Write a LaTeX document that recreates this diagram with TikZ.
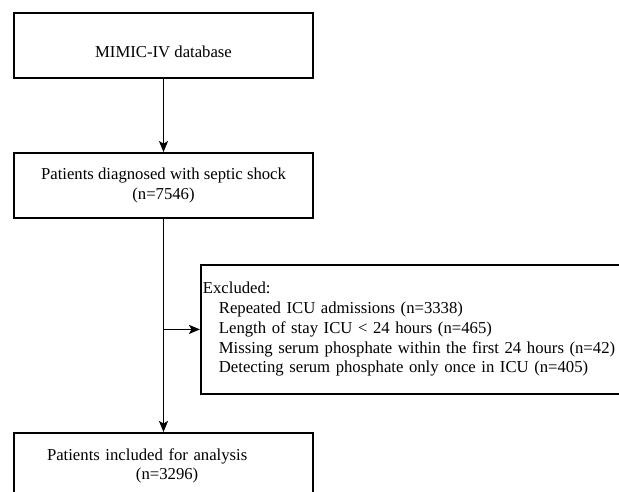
\documentclass[tikz,border=0pt]{standalone}
\usepackage{fontspec}
\setmainfont{Liberation Serif}
\usepackage{tikz}
\usetikzlibrary{arrows.meta}

\begin{document}
\begin{tikzpicture}[x=1pt, y=-1pt,
  box/.style={draw, line width=1.8pt, minimum width=299pt, minimum height=65pt,
    inner sep=0pt, align=center, font=\fontsize{16.7}{19.7}\selectfont},
  flow/.style={line width=1.8pt, -{Stealth[length=11pt,width=9pt,inset=2.5pt]}}]
  % Page frame (boxes run off the edges)
  \clip (0,0) rectangle (619,491);
  \fill[white] (0,0) rectangle (619,491);

  % Source database
  \node[box] (mimic) at (163.5,45.5) {\raisebox{-6pt}[\height][\depth]{MIMIC-IV database}};

  % Septic shock cohort
  \node[box] (septic) at (163.5,185.5) {Patients diagnosed with septic shock\\(n=7546)};

  % Exclusion criteria
  \node[box, anchor=north west, minimum height=129pt, align=left,
    text width=456pt, inner xsep=2pt] (excluded) at (200,264) {Excluded:\\
    \hspace*{16pt}Repeated ICU admissions (n=3338)\\
    \hspace*{16pt}Length of stay ICU < 24 hours (n=465)\\
    \hspace*{16pt}Missing serum phosphate within the first 24 hours (n=42)\\
    \hspace*{16pt}Detecting serum phosphate only once in ICU (n=405)};

  % Final cohort
  \node[box, anchor=north, minimum height=66pt, align=left,
    text width=233pt, inner xsep=33pt] (included) at (163.5,432) {Patients included for analysis\\
    \hspace*{89pt}(n=3296)};

  % Connectors
  \draw[flow] (mimic) -- (septic);
  \draw[flow] (septic) -- (included);
  \draw[flow] (septic.south |- excluded.west) -- (excluded.west);
\end{tikzpicture}
\end{document}
